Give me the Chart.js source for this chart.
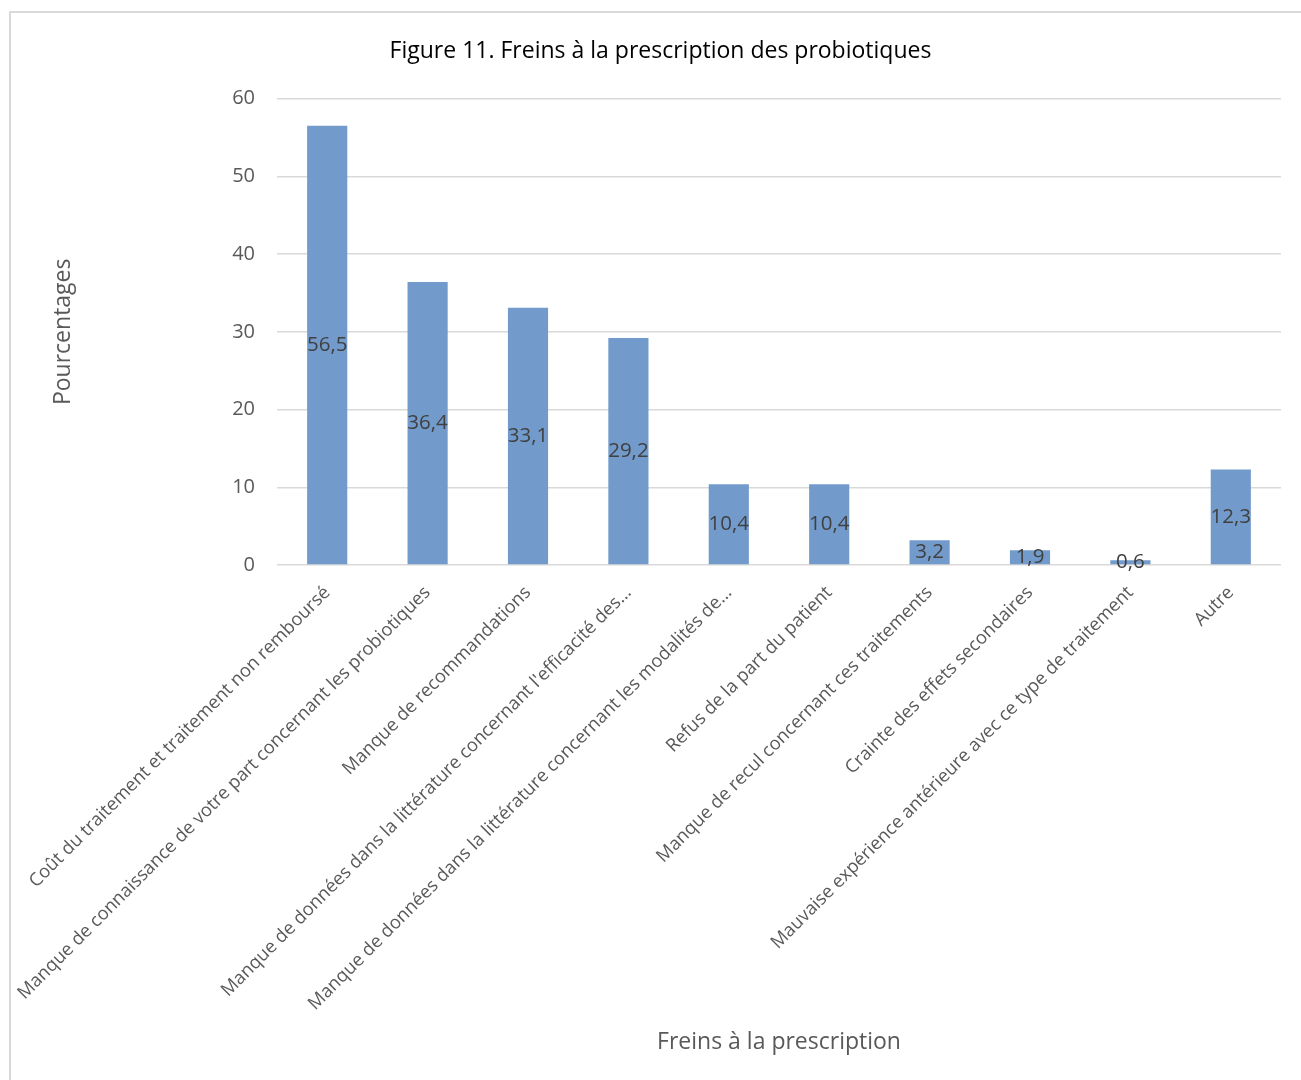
<!DOCTYPE html>
<html>
<head>
<meta charset="utf-8">
<script src="https://cdn.jsdelivr.net/npm/chart.js@4"></script>
<style>
  html, body { margin: 0; padding: 0; background: #fff; overflow: hidden; }
  #frame {
    position: absolute; left: 9px; top: 11px;
    border-left: 2px solid #d9d9d9; border-top: 2px solid #d9d9d9;
  }
  canvas { display: block; }
</style>
</head>
<body>
<div id="frame">
  <canvas id="chart" width="1290" height="1067" style="width:1290px;height:1067px"></canvas>
</div>
<script>
// Chart data
const categories = [
  "Coût du traitement et traitement non remboursé",
  "Manque de connaissance de votre part concernant les probiotiques",
  "Manque de recommandations",
  "Manque de données dans la littérature concernant l'efficacité des…",
  "Manque de données dans la littérature concernant les modalités de…",
  "Refus de la part du patient",
  "Manque de recul concernant ces traitements",
  "Crainte des effets secondaires",
  "Mauvaise expérience antérieure avec ce type de traitement",
  "Autre"
];
const percentages = [56.5, 36.4, 33.1, 29.2, 10.4, 10.4, 3.2, 1.9, 0.6, 12.3];
const yTicks = [0, 10, 20, 30, 40, 50, 60];

const FONT = '"Open Sans", "DejaVu Sans", sans-serif';

const fmt = (v) => v.toFixed(1).replace(".", ",");

// Excel-style labels in the middle of each bar
const centerLabels = {
  id: "centerLabels",
  afterDatasetsDraw(chart) {
    const ctx = chart.ctx;
    const meta = chart.getDatasetMeta(0);
    ctx.save();
    ctx.font = "20.5px " + FONT;
    ctx.fillStyle = "#404040";
    ctx.textAlign = "center";
    ctx.textBaseline = "middle";
    meta.data.forEach((bar, i) => {
      ctx.fillText(fmt(percentages[i]), bar.x, (bar.y + bar.base) / 2);
    });
    ctx.restore();
  }
};

const ctx = document.getElementById("chart").getContext("2d");
new Chart(ctx, {
  type: "bar",
  data: {
    labels: categories,
    datasets: [
      {
        data: percentages,
        backgroundColor: "#729bcc",
        barPercentage: 0.4,
        categoryPercentage: 1.0
      }
    ]
  },
  options: {
    responsive: false,
    animation: false,
    layout: { padding: { left: 29, right: 20, top: 0, bottom: 0 } },
    plugins: {
      legend: { display: false },
      tooltip: { enabled: false },
      title: {
        display: true,
        text: "Figure 11. Freins à la prescription des probiotiques",
        color: "#000",
        font: { family: FONT, size: 23, weight: "normal" },
        padding: { top: 25, bottom: 33 }
      }
    },
    scales: {
      x: {
        grid: { display: false },
        border: { display: false },
        ticks: {
          color: "#595959",
          font: { family: FONT, size: 18.3 },
          minRotation: 45,
          maxRotation: 45,
          autoSkip: false,
          padding: 9
        },
        title: {
          display: true,
          text: "Freins à la prescription",
          color: "#595959",
          font: { family: FONT, size: 23 },
          padding: { top: 0, bottom: 24 }
        },
        afterFit(scale) {
          scale.height = 515;
          // the long rotated labels may run past the left edge, as in the original
          scale.paddingLeft = 0;
          scale.paddingRight = 0;
        }
      },
      y: {
        min: 0,
        max: 60,
        afterBuildTicks(scale) {
          scale.ticks = yTicks.map((v) => ({ value: v }));
        },
        grid: { color: "#d9d9d9", lineWidth: 1.5, drawTicks: false },
        border: { display: false },
        ticks: {
          color: "#595959",
          font: { family: FONT, size: 20 },
          padding: 22
        },
        title: {
          display: true,
          text: "Pourcentages",
          color: "#595959",
          font: { family: FONT, size: 23 },
          padding: { top: 10, bottom: 0 }
        },
        afterFit(scale) {
          scale.width = 237;
        }
      }
    }
  },
  plugins: [centerLabels]
});
</script>
</body>
</html>
